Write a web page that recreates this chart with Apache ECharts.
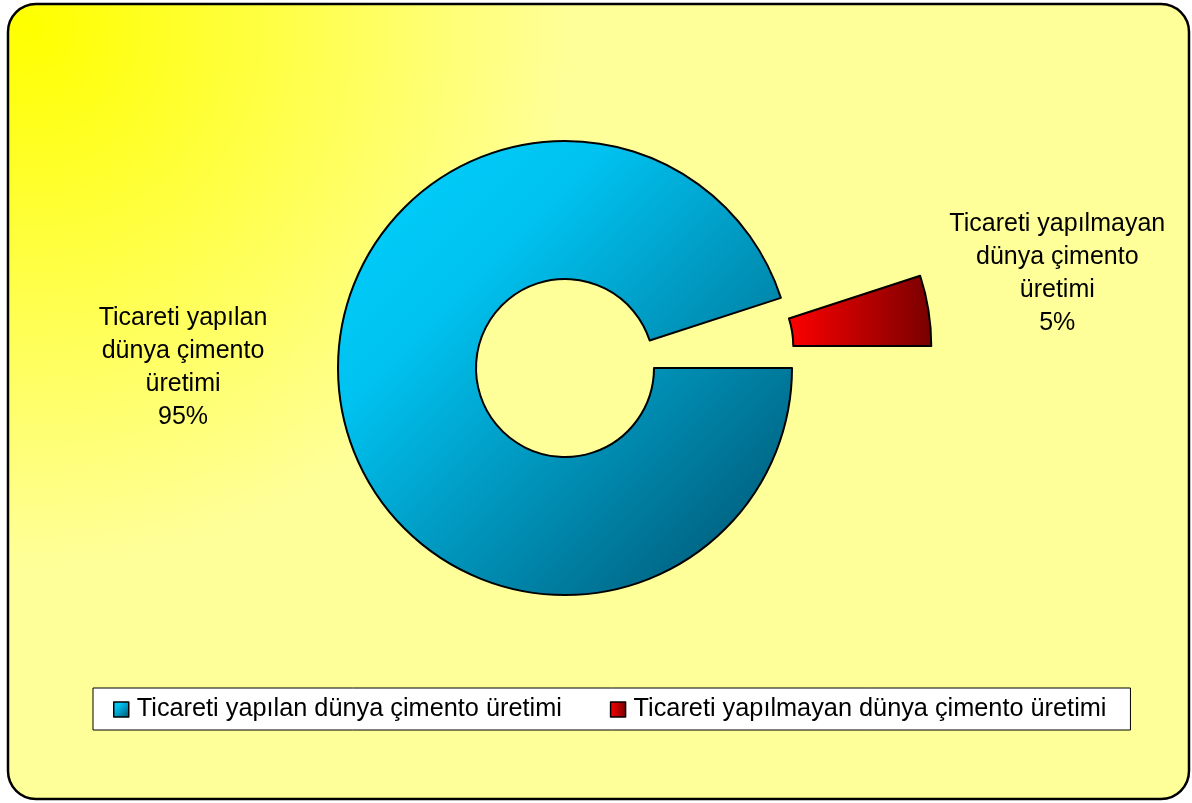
<!DOCTYPE html>
<html>
<head>
<meta charset="utf-8">
<script src="https://cdn.jsdelivr.net/npm/echarts@6/dist/echarts.min.js"></script>
<style>
  html, body { margin: 0; padding: 0; background: #ffffff; }
  #chart { width: 1192px; height: 803px; }
</style>
</head>
<body>
<div id="chart"></div>
<script>
// dünya çimento üretimi - ticareti yapılan / yapılmayan
const categories = ['Ticareti yapılan dünya çimento üretimi', 'Ticareti yapılmayan dünya çimento üretimi'];
const shares = [95, 5];
const labelLines = [
    ['Ticareti yapılan', 'dünya çimento', 'üretimi'],
    ['Ticareti yapılmayan', 'dünya çimento', 'üretimi']
];

const chart = echarts.init(document.getElementById('chart'));

const blueFill = new echarts.graphic.LinearGradient(0, 0, 1, 1, [
    { offset: 0, color: '#00d2ff' },
    { offset: 0.3, color: '#00c2f0' },
    { offset: 1, color: '#00506c' }
]);
const redFill = new echarts.graphic.LinearGradient(0, 0, 1, 0, [
    { offset: 0, color: '#ff0000' },
    { offset: 1, color: '#780000' }
]);
const fills = [blueFill, redFill];

const option = {
    animation: false,
    graphic: [{
        type: 'rect',
        z: -10,
        silent: true,
        shape: { x: 8, y: 4, width: 1181, height: 795, r: 28 },
        style: {
            fill: new echarts.graphic.RadialGradient(0.02, 0.03, 0.9, [
                { offset: 0, color: '#ffff00' },
                { offset: 0.75, color: '#ffff99' },
                { offset: 1, color: '#ffff99' }
            ]),
            stroke: '#000',
            lineWidth: 2.5
        }
    }],
    legend: {
        left: 93,
        top: 688,
        orient: 'horizontal',
        backgroundColor: '#ffffff',
        borderColor: '#000',
        borderWidth: 1,
        borderRadius: 0,
        padding: [9, 24, 8, 20],
        itemGap: 48,
        itemWidth: 15,
        itemHeight: 15,
        icon: 'rect',
        itemStyle: { borderColor: '#000', borderWidth: 1.5 },
        textStyle: { fontFamily: 'Liberation Sans, Arial', fontSize: 25.3, color: '#000', padding: [0, 0, 0, 3] },
        data: categories
    },
    series: [{
        type: 'pie',
        center: [565, 368],
        radius: [89, 227],
        startAngle: 0,
        clockwise: true,
        selectedMode: 'single',
        selectedOffset: 141,
        avoidLabelOverlap: false,
        emphasis: { disabled: true },
        itemStyle: { borderColor: '#000', borderWidth: 2 },
        label: {
            show: true,
            fontFamily: 'Liberation Sans, Arial',
            fontSize: 25,
            lineHeight: 33,
            color: '#000',
            align: 'center',
            formatter: function (p) {
                return labelLines[p.dataIndex].join('\n') + '\n' + shares[p.dataIndex] + '%';
            }
        },
        labelLine: { show: false },
        labelLayout: function (params) {
            if (params.dataIndex === 0) {
                return { x: 183, y: 368, align: 'center', verticalAlign: 'middle' };
            }
            // seçili dilimin etiketi x/y'yi almıyor, kaydırma ile düzelt
            return { dx: 79, dy: -34, align: 'center' };
        },
        data: categories.map(function (name, i) {
            return {
                name: name,
                value: shares[i],
                selected: i === 1,
                itemStyle: { color: fills[i] }
            };
        })
    }]
};

chart.setOption(option);
</script>
</body>
</html>
